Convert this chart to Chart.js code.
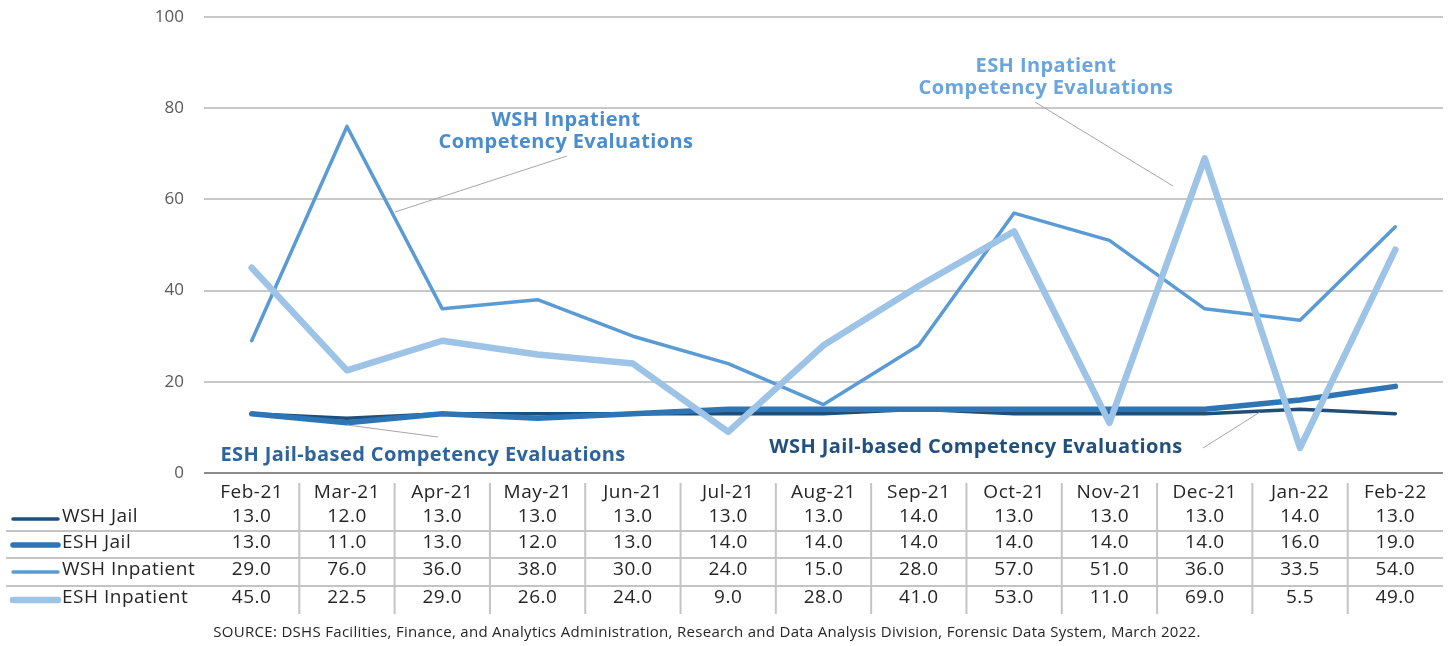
<!DOCTYPE html>
<html lang="en">
<head>
<meta charset="UTF-8">
<title>Competency Evaluations</title>
<style>
    body { margin: 0; background: #fff; }
    #wrap { width: 1454px; height: 646px; position: relative; }
</style>
<script src="https://cdn.jsdelivr.net/npm/chart.js"></script>
</head>
<body>
<div id="wrap"><canvas id="chart"></canvas></div>
<script>
// data
var months = ['Feb-21', 'Mar-21', 'Apr-21', 'May-21', 'Jun-21', 'Jul-21', 'Aug-21',
              'Sep-21', 'Oct-21', 'Nov-21', 'Dec-21', 'Jan-22', 'Feb-22'];
var wshJail      = [13, 12, 13, 13, 13, 13, 13, 14, 13, 13, 13, 14, 13];
var eshJail      = [13, 11, 13, 12, 13, 14, 14, 14, 14, 14, 14, 16, 19];
var wshInpatient = [29, 76, 36, 38, 30, 24, 15, 28, 57, 51, 36, 33.5, 54];
var eshInpatient = [45, 22.5, 29, 26, 24, 9, 28, 41, 53, 11, 69, 5.5, 49];
var yTicks = [0, 20, 40, 60, 80, 100];
var sourceNote = 'SOURCE: DSHS Facilities, Finance, and Analytics Administration, Research and Data Analysis Division, Forensic Data System, March 2022.';

var FONT = '"Open Sans", Arial, sans-serif';

var series = [
    { name: 'WSH Jail',      data: wshJail,      color: '#1f4e79', width: 3.5, order: 4 },
    { name: 'ESH Jail',      data: eshJail,      color: '#2e75b6', width: 5.5, order: 3 },
    { name: 'WSH Inpatient', data: wshInpatient, color: '#5b9bd5', width: 3.5, order: 2 },
    { name: 'ESH Inpatient', data: eshInpatient, color: '#9dc3e6', width: 6.5, order: 1 }
];

// callout labels with their leader lines
var callouts = [
    { lines: ['WSH Inpatient', 'Competency Evaluations'], x: 566, y: 120, color: '#4a8ccc',
      from: [567, 156], to: [395, 212] },
    { lines: ['ESH Inpatient', 'Competency Evaluations'], x: 1046, y: 66, color: '#6aa5dc',
      from: [1035, 102], to: [1173, 186] },
    { lines: ['ESH Jail-based Competency Evaluations'], x: 423, y: 455, color: '#2e6499',
      from: [438, 437], to: [347, 425] },
    { lines: ['WSH Jail-based Competency Evaluations'], x: 976, y: 447, color: '#22507d',
      from: [1203, 448], to: [1260, 412] }
];

var tablePlugin = {
    id: 'dataTable',
    afterDraw: function(chart) {
        var ctx = chart.ctx;
        var x = chart.scales.x;
        var area = chart.chartArea;
        var step = x.getPixelForValue(1) - x.getPixelForValue(0);
        var rowY = [517, 543, 570, 598];
        var sepY = [531, 558, 586];
        ctx.save();

        // row separators
        ctx.strokeStyle = '#c4c4c4';
        ctx.lineWidth = 2;
        sepY.forEach(function(y) {
            ctx.beginPath(); ctx.moveTo(6, y); ctx.lineTo(area.right, y); ctx.stroke();
        });
        // column separators
        for (var i = 1; i < months.length; i++) {
            var cx = x.getPixelForValue(i) - step / 2;
            ctx.beginPath(); ctx.moveTo(cx, 483); ctx.lineTo(cx, 614); ctx.stroke();
        }

        ctx.fillStyle = '#262626';
        ctx.font = '19px ' + FONT;
        ctx.letterSpacing = '0.5px';
        ctx.textAlign = 'center';
        ctx.textBaseline = 'middle';
        months.forEach(function(m, i) {
            ctx.fillText(m, x.getPixelForValue(i), 493);
        });
        series.forEach(function(s, r) {
            s.data.forEach(function(v, i) {
                ctx.fillText(v.toFixed(1), x.getPixelForValue(i), rowY[r]);
            });
            // legend key
            ctx.strokeStyle = s.color;
            ctx.lineWidth = s.width;
            ctx.lineCap = 'round';
            ctx.beginPath(); ctx.moveTo(13, rowY[r] + 2); ctx.lineTo(58, rowY[r] + 2); ctx.stroke();
            ctx.textAlign = 'left';
            ctx.fillText(s.name, 62, rowY[r]);
            ctx.textAlign = 'center';
        });

        // source
        ctx.font = '15px ' + FONT;
        ctx.letterSpacing = '0.3px';
        ctx.fillStyle = '#262626';
        ctx.fillText(sourceNote, 707, 633);

        // callouts
        callouts.forEach(function(c) {
            ctx.strokeStyle = '#a6a6a6';
            ctx.lineWidth = 1;
            ctx.lineCap = 'butt';
            ctx.beginPath(); ctx.moveTo(c.from[0], c.from[1]); ctx.lineTo(c.to[0], c.to[1]); ctx.stroke();
            ctx.fillStyle = c.color;
            ctx.font = 'bold 20px ' + FONT;
            ctx.letterSpacing = '0.4px';
            c.lines.forEach(function(t, k) {
                ctx.fillText(t, c.x, c.y + k * 22);
            });
        });
        ctx.restore();
    }
};

new Chart(document.getElementById('chart'), {
    type: 'line',
    data: {
        labels: months,
        datasets: series.map(function(s) {
            return {
                label: s.name,
                data: s.data,
                borderColor: s.color,
                backgroundColor: s.color,
                borderWidth: s.width,
                order: s.order,
                pointRadius: 0,
                tension: 0,
                borderJoinStyle: 'round',
                borderCapStyle: 'round'
            };
        })
    },
    options: {
        responsive: true,
        maintainAspectRatio: false,
        animation: false,
        layout: { padding: { top: 17, right: 11, bottom: 165, left: 0 } },
        plugins: { legend: { display: false }, tooltip: { enabled: false } },
        scales: {
            x: {
                offset: true,
                ticks: { display: false },
                grid: { display: false },
                border: { display: false }
            },
            y: {
                min: 0,
                max: 100,
                afterFit: function(scale) {
                    scale.width = 204;
                    scale.paddingTop = 0;
                    scale.paddingBottom = 0;
                },
                afterBuildTicks: function(scale) {
                    scale.ticks = yTicks.map(function(v) { return { value: v }; });
                },
                ticks: { color: '#595959', padding: 20, font: { family: FONT, size: 17 } },
                grid: {
                    drawTicks: false,
                    lineWidth: 2,
                    color: function(c) { return c.tick && c.tick.value === 0 ? '#8c8c8c' : '#c8c8c8'; }
                },
                border: { display: false }
            }
        }
    },
    plugins: [tablePlugin]
});
</script>
</body>
</html>
